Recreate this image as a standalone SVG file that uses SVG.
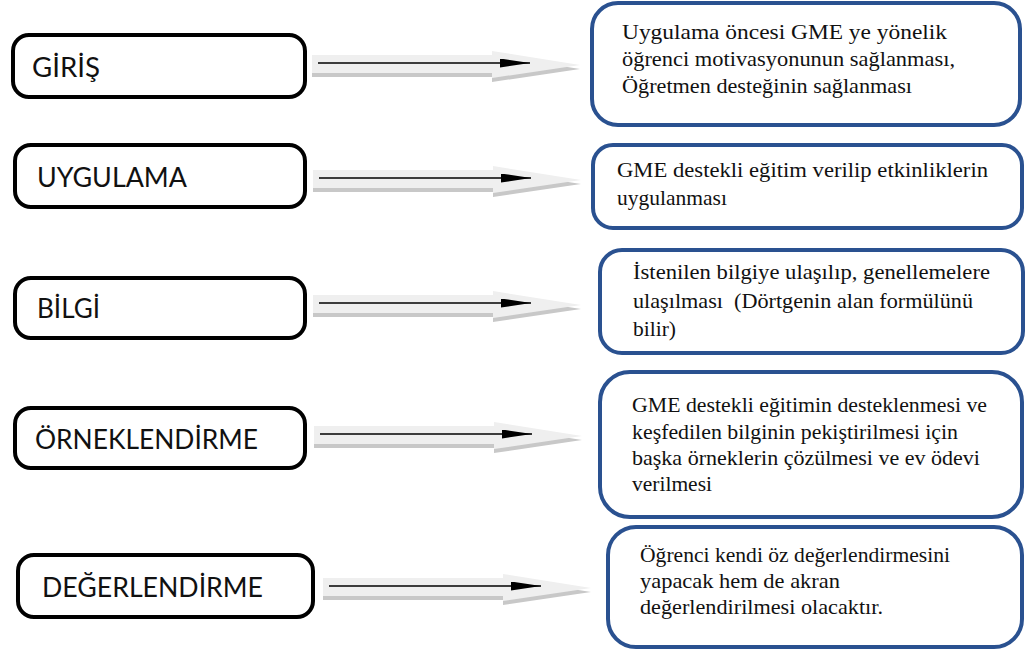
<svg xmlns="http://www.w3.org/2000/svg" xmlns:xlink="http://www.w3.org/1999/xlink" width="1025" height="653" viewBox="0 0 1025 653">
<style>
.lbox{fill:#fff;stroke:#000;stroke-width:4}
.rbox{fill:#fff;stroke:#2a5190;stroke-width:4}
.ltxt{font-family:Lato,"Liberation Sans",sans-serif;font-size:27px;fill:#111}
.rtxt{font-family:"Liberation Serif","Times New Roman",serif;font-size:21.5px;fill:#111}
.ln{stroke:#000;stroke-width:1.6;fill:none;marker-end:url(#ah)}
</style>
<defs>
<marker id="ah" viewBox="0 0 30 9" refX="30" refY="4.5" markerWidth="30" markerHeight="9" markerUnits="userSpaceOnUse" orient="auto">
<path d="M0,0 L30,4.5 L0,9 z" fill="#000"/>
</marker>
<g id="blk">
<polygon points="0,-6 180,-6 180,-10 268,4 180,17 180,12 0,12" fill="#c8c8c8"/>
<polygon points="0,-10 180,-10 180,-14 268,0 180,13 180,8 0,8" fill="#efefef"/>
</g>
</defs>
<rect width="1025" height="653" fill="#fff"/>
<g id="connectors">
<use xlink:href="#blk" x="312" y="65"/>
<line class="ln" x1="318" y1="63" x2="530" y2="63"/>
<use xlink:href="#blk" x="313" y="180"/>
<line class="ln" x1="319" y1="178" x2="531" y2="178"/>
<use xlink:href="#blk" x="313" y="305"/>
<line class="ln" x1="319" y1="303" x2="531" y2="303"/>
<use xlink:href="#blk" x="314" y="436"/>
<line class="ln" x1="320" y1="434" x2="532" y2="434"/>
<use xlink:href="#blk" x="323" y="588"/>
<line class="ln" x1="329" y1="586" x2="541" y2="586"/>
</g>
<g id="giris">
<rect class="lbox" x="13" y="35" width="292" height="62" rx="16"/>
<text class="ltxt" x="32" y="77" textLength="68" lengthAdjust="spacingAndGlyphs">GİRİŞ</text>
</g>
<g id="uygulama">
<rect class="lbox" x="15" y="145" width="290" height="62" rx="16"/>
<text class="ltxt" x="37" y="187" textLength="150" lengthAdjust="spacingAndGlyphs">UYGULAMA</text>
</g>
<g id="bilgi">
<rect class="lbox" x="15" y="278" width="290" height="60" rx="16"/>
<text class="ltxt" x="37" y="318" textLength="63" lengthAdjust="spacingAndGlyphs">BİLGİ</text>
</g>
<g id="ornek">
<rect class="lbox" x="15" y="408" width="290" height="60" rx="16"/>
<text class="ltxt" x="35" y="449" textLength="223" lengthAdjust="spacingAndGlyphs">ÖRNEKLENDİRME</text>
</g>
<g id="deger">
<rect class="lbox" x="18" y="555" width="295" height="62" rx="16"/>
<text class="ltxt" x="42" y="597" textLength="221" lengthAdjust="spacingAndGlyphs">DEĞERLENDİRME</text>
</g>
<g id="r1">
<rect class="rbox" x="592" y="3" width="428" height="122" rx="26"/>
<text class="rtxt" x="622" y="39" textLength="325" lengthAdjust="spacingAndGlyphs">Uygulama öncesi GME ye yönelik</text>
<text class="rtxt" x="622" y="66" textLength="333" lengthAdjust="spacingAndGlyphs">öğrenci motivasyonunun sağlanması,</text>
<text class="rtxt" x="622" y="93" textLength="290" lengthAdjust="spacingAndGlyphs">Öğretmen desteğinin sağlanması</text>
</g>
<g id="r2">
<rect class="rbox" x="593" y="145" width="429" height="83" rx="20"/>
<text class="rtxt" x="617" y="177" textLength="371" lengthAdjust="spacingAndGlyphs">GME destekli eğitim verilip etkinliklerin</text>
<text class="rtxt" x="617" y="205">uygulanması</text>
</g>
<g id="r3">
<rect class="rbox" x="600" y="250" width="423" height="103" rx="22"/>
<text class="rtxt" x="633" y="279" textLength="357" lengthAdjust="spacingAndGlyphs">İstenilen bilgiye ulaşılıp, genellemelere</text>
<text class="rtxt" x="633" y="308" textLength="340" lengthAdjust="spacingAndGlyphs" xml:space="preserve">ulaşılması  (Dörtgenin alan formülünü</text>
<text class="rtxt" x="633" y="336">bilir)</text>
</g>
<g id="r4">
<rect class="rbox" x="600" y="372" width="422" height="145" rx="30"/>
<text class="rtxt" x="632" y="412" textLength="355" lengthAdjust="spacingAndGlyphs">GME destekli eğitimin desteklenmesi ve</text>
<text class="rtxt" x="632" y="439" textLength="326" lengthAdjust="spacingAndGlyphs">keşfedilen bilginin pekiştirilmesi için</text>
<text class="rtxt" x="632" y="465" textLength="348" lengthAdjust="spacingAndGlyphs">başka örneklerin çözülmesi ve ev ödevi</text>
<text class="rtxt" x="632" y="491">verilmesi</text>
</g>
<g id="r5">
<rect class="rbox" x="608" y="527" width="414" height="120" rx="28"/>
<text class="rtxt" x="640" y="562" textLength="310" lengthAdjust="spacingAndGlyphs">Öğrenci kendi öz değerlendirmesini</text>
<text class="rtxt" x="640" y="588" textLength="200" lengthAdjust="spacingAndGlyphs">yapacak hem de akran</text>
<text class="rtxt" x="640" y="614" textLength="243" lengthAdjust="spacingAndGlyphs">değerlendirilmesi olacaktır.</text>
</g>
</svg>
